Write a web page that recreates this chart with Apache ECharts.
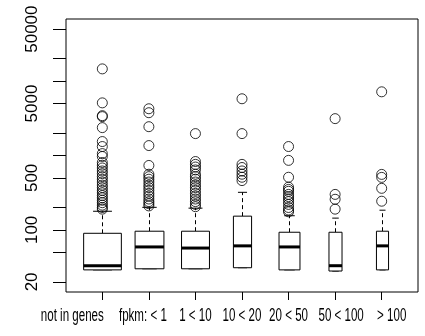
<!DOCTYPE html>
<html>
<head>
<meta charset="utf-8">
<script src="https://cdn.jsdelivr.net/npm/echarts@6/dist/echarts.min.js"></script>
<style>
  html, body { margin: 0; padding: 0; background: #fff; }
  #chart { width: 425px; height: 336px; }
</style>
</head>
<body>
<div id="chart"></div>
<script>
  const categories = ['not in genes', 'fpkm: < 1', '1 < 10', '10 < 20', '20 < 50', '50 < 100', '> 100'];

  // box statistics (raw values, drawn on a log scale)
  const whiskerLow = [29, 30, 30, 31, 29, 28, 29];
  const quartile1 = [29, 30, 30, 31, 29, 28, 29];
  const medians = [33, 59, 57, 61, 59, 33, 61];
  const quartile3 = [90, 96, 96, 153, 93, 93, 96];
  const whiskerHigh = [178, 201, 196, 320, 155, 144, 184];

  const outNotInGenes = [14600, 5100, 3430, 3330, 2370, 1540, 1320, 1060, 970, 805, 740, 680, 620, 570, 520, 480, 440, 400, 370, 340, 315, 290, 270, 250, 232, 215, 200, 190];
  const outBelow1 = [4250, 3760, 2440, 1360, 735, 560, 520, 480, 440, 400, 370, 340, 310, 285, 260, 240, 225, 210];
  const out1to10 = [1970, 830, 760, 700, 640, 560, 520, 480, 440, 400, 370, 340, 310, 285, 260, 240, 220, 205];
  const out10to20 = [5790, 1970, 760, 690, 620, 560, 510, 460];
  const out20to50 = [1320, 860, 510, 375, 350, 330, 300, 280, 260, 240, 220, 200, 185, 175];
  const out50to100 = [3130, 300, 258, 190];
  const outAbove100 = [7180, 557, 508, 362, 243];
  const outliers = [outNotInGenes, outBelow1, out1to10, out10to20, out20to50, out50to100, outAbove100];

  const tickValues = [20, 50, 100, 200, 500, 1000, 2000, 5000, 10000, 20000, 50000];
  const labelValues = [20, 100, 500, 5000, 50000];

  // look only: box widths (share of one category step), label nudges in px
  const boxWidths = [0.81, 0.62, 0.6, 0.39, 0.45, 0.28, 0.26];
  const labelShift = [-30, -6, 0, 0, 0, 6, 10];

  const n = categories.length;
  const logMin = Math.log10(tickValues[0]);
  const logMax = Math.log10(tickValues[tickValues.length - 1]);
  const pad = 0.04 * (logMax - logMin);

  const boxData = categories.map((c, i) => [
    i + 1,
    Math.log10(whiskerLow[i]),
    Math.log10(quartile1[i]),
    Math.log10(medians[i]),
    Math.log10(quartile3[i]),
    Math.log10(whiskerHigh[i])
  ]);

  const outlierData = [];
  outliers.forEach((list, i) => {
    list.forEach(v => outlierData.push([i + 1, Math.log10(v)]));
  });

  function renderBox(params, api) {
    const x = api.value(0);
    const half = boxWidths[params.dataIndex] * api.size([1, 0])[0] / 2;
    const low = api.coord([x, api.value(1)]);
    const q1 = api.coord([x, api.value(2)]);
    const med = api.coord([x, api.value(3)]);
    const q3 = api.coord([x, api.value(4)]);
    const high = api.coord([x, api.value(5)]);
    const cx = Math.round(q1[0]) + 0.5;
    const ink = {stroke: '#000', lineWidth: 1};
    const dashed = {stroke: '#000', lineWidth: 1, lineDash: [4, 3]};
    return {
      type: 'group',
      children: [
        {type: 'line', shape: {x1: cx, y1: q3[1], x2: cx, y2: high[1]}, style: dashed},
        {type: 'line', shape: {x1: cx, y1: q1[1], x2: cx, y2: low[1]}, style: dashed},
        {type: 'line', shape: {x1: cx - half / 2, y1: high[1], x2: cx + half / 2, y2: high[1]}, style: ink},
        {type: 'line', shape: {x1: cx - half / 2, y1: low[1], x2: cx + half / 2, y2: low[1]}, style: ink},
        {
          type: 'rect',
          shape: {x: cx - half, y: q3[1], width: 2 * half, height: q1[1] - q3[1]},
          style: {fill: '#fff', stroke: '#000', lineWidth: 1}
        },
        {type: 'line', shape: {x1: cx - half, y1: med[1], x2: cx + half, y2: med[1]}, style: {stroke: '#000', lineWidth: 3}}
      ]
    };
  }

  const chart = echarts.init(document.getElementById('chart'));
  chart.setOption({
    animation: false,
    backgroundColor: '#fff',
    grid: {
      left: 66, right: 7, top: 19, bottom: 44,
      show: true, borderColor: '#000', borderWidth: 1, backgroundColor: 'transparent'
    },
    xAxis: {
      type: 'value',
      min: 0.5 - 0.04 * n,
      max: n + 0.5 + 0.04 * n,
      splitLine: {show: false},
      axisLine: {show: false},
      axisTick: {
        show: true,
        length: 8,
        customValues: categories.map((c, i) => i + 1),
        lineStyle: {color: '#000'}
      },
      axisLabel: {show: false}
    },
    yAxis: {
      type: 'value',
      min: logMin - pad,
      max: logMax + pad,
      splitLine: {show: false},
      axisLine: {show: false},
      axisTick: {
        show: true,
        length: 13,
        customValues: tickValues.map(v => Math.log10(v)),
        lineStyle: {color: '#000'}
      },
      axisLabel: {
        rotate: 90,
        margin: 25,
        fontFamily: '"Liberation Sans", Arial, sans-serif',
        fontSize: 17,
        color: '#000',
        customValues: labelValues.map(v => Math.log10(v)),
        formatter: v => String(Math.round(Math.pow(10, v)))
      }
    },
    series: [
      {
        type: 'custom',
        renderItem: renderBox,
        encode: {x: 0, y: [1, 2, 3, 4, 5]},
        data: boxData,
        z: 2
      },
      {
        type: 'scatter',
        symbol: 'circle',
        symbolSize: 10,
        itemStyle: {color: 'rgba(0,0,0,0)', borderColor: '#000', borderWidth: 1},
        data: outlierData,
        z: 3
      }
    ]
  });

  // category names in the narrow lettering of the original: squeeze a normal face
  const labelFamily = '"Liberation Sans", Arial, sans-serif';
  const labelSize = 18;
  const ctx = document.createElement('canvas').getContext('2d');
  ctx.font = labelSize + 'px ' + labelFamily;
  const squeeze = 63 / ctx.measureText(categories[0]).width;
  const axisBottom = chart.convertToPixel({yAxisIndex: 0}, logMin - pad);

  chart.setOption({
    graphic: categories.map((c, i) => ({
      type: 'text',
      x: chart.convertToPixel({xAxisIndex: 0}, i + 1) + labelShift[i],
      y: axisBottom + 15,
      scaleX: squeeze,
      style: {
        text: c,
        fontFamily: labelFamily,
        fontSize: labelSize,
        fill: '#000',
        align: 'center',
        verticalAlign: 'top'
      }
    }))
  });
</script>
</body>
</html>
